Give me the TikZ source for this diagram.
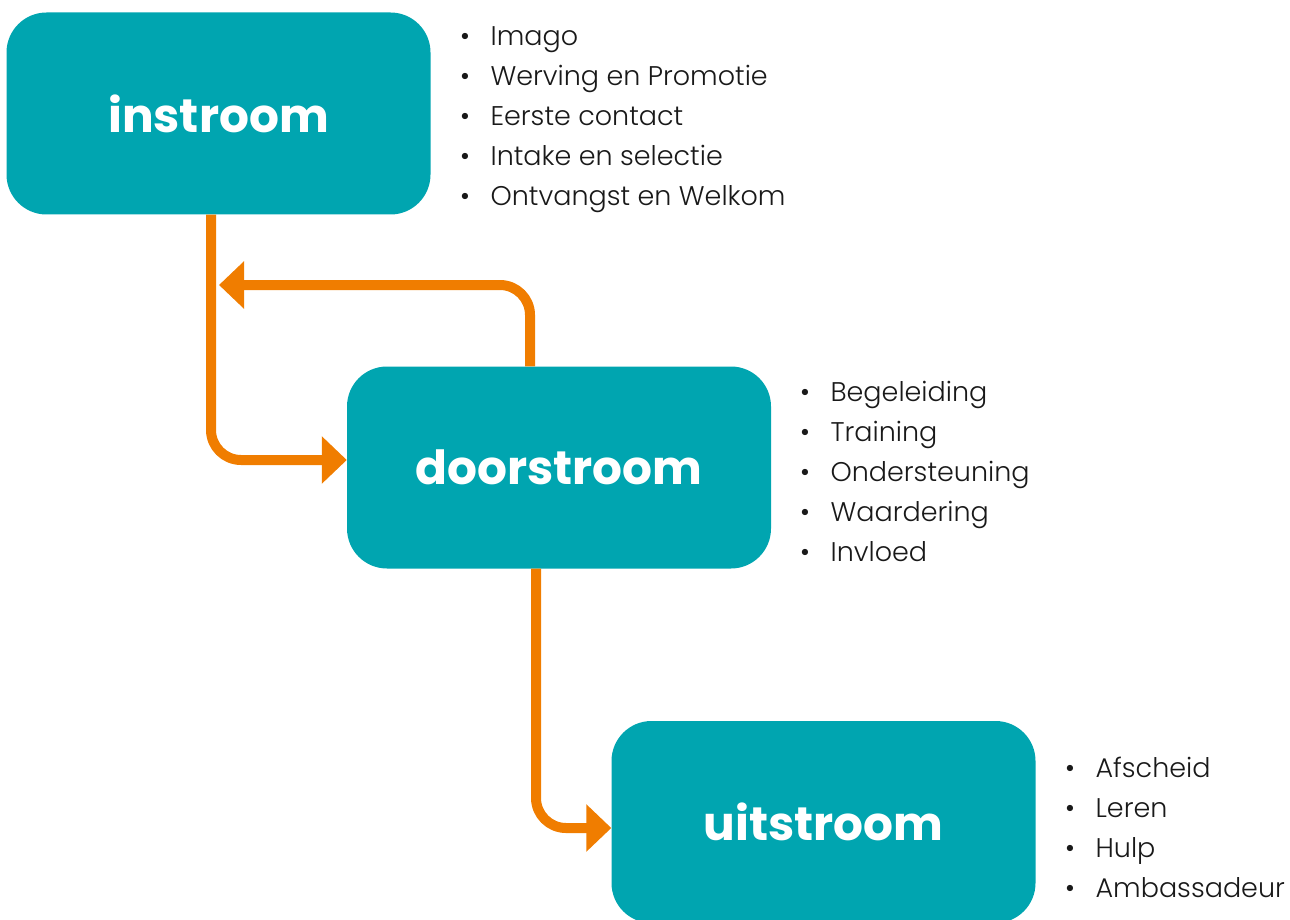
\documentclass[tikz,border=0pt]{standalone}
\usepackage{fontspec}
\setmainfont{Poppins}[UprightFont=* Light, BoldFont=* Bold]
\usetikzlibrary{arrows.meta,calc}
\definecolor{teal}{RGB}{0,165,176}
\definecolor{flow}{RGB}{240,125,0}
\definecolor{ink}{RGB}{25,25,25}
\newcommand{\itm}[1]{\textbullet\hspace{20.5pt}#1}
\begin{document}
\begin{tikzpicture}[x=1pt,y=-1pt,
  phase/.style={fill=teal, rounded corners=40pt, minimum width=424pt, minimum height=202pt,
    text=white, font=\bfseries\fontsize{47}{47}\selectfont, inner sep=0pt},
  flowline/.style={draw=flow, line width=10pt, rounded corners=30pt,
    -{Triangle[length=25pt,width=46pt]}},
  items/.style={anchor=base west, align=left, text=ink, font=\fontsize{27}{40}\selectfont, inner sep=0pt}
]
\useasboundingbox (0,0) rectangle (1290,920);
% the three phases
\node[phase] (in)   at (218.5,113.5) {instroom};
\node[phase] (door) at (559,467.5)   {doorstroom};
\node[phase] (uit)  at (823.5,822)   {uitstroom};
% flow between the phases
\coordinate (back) at (219,285);
\draw[flowline] ([xshift=-7.5pt]in.south) |- ([yshift=7.5pt]door.west);
\draw[flowline] ([xshift=-29pt]door.north) |- (back);
\draw[flowline] ([xshift=-23pt]door.south) |- ([yshift=-6pt]uit.west);
% lists of activities (anchored at the baseline of the last line)
\node[items] (inlist) at (460,206) {\itm{Imago}\\ \itm{Werving en Promotie}\\ \itm{Eerste contact}\\ \itm{Intake en selectie}\\ \itm{Ontvangst en Welkom}};
\node[items] (doorlist) at (800,561) {\itm{Begeleiding}\\ \itm{Training}\\ \itm{Ondersteuning}\\ \itm{Waardering}\\ \itm{Invloed}};
\node[items] (uitlist) at (1065,897) {\itm{Afscheid}\\ \itm{Leren}\\ \itm{Hulp}\\ \itm{Ambassadeur}};
\end{tikzpicture}
\end{document}
